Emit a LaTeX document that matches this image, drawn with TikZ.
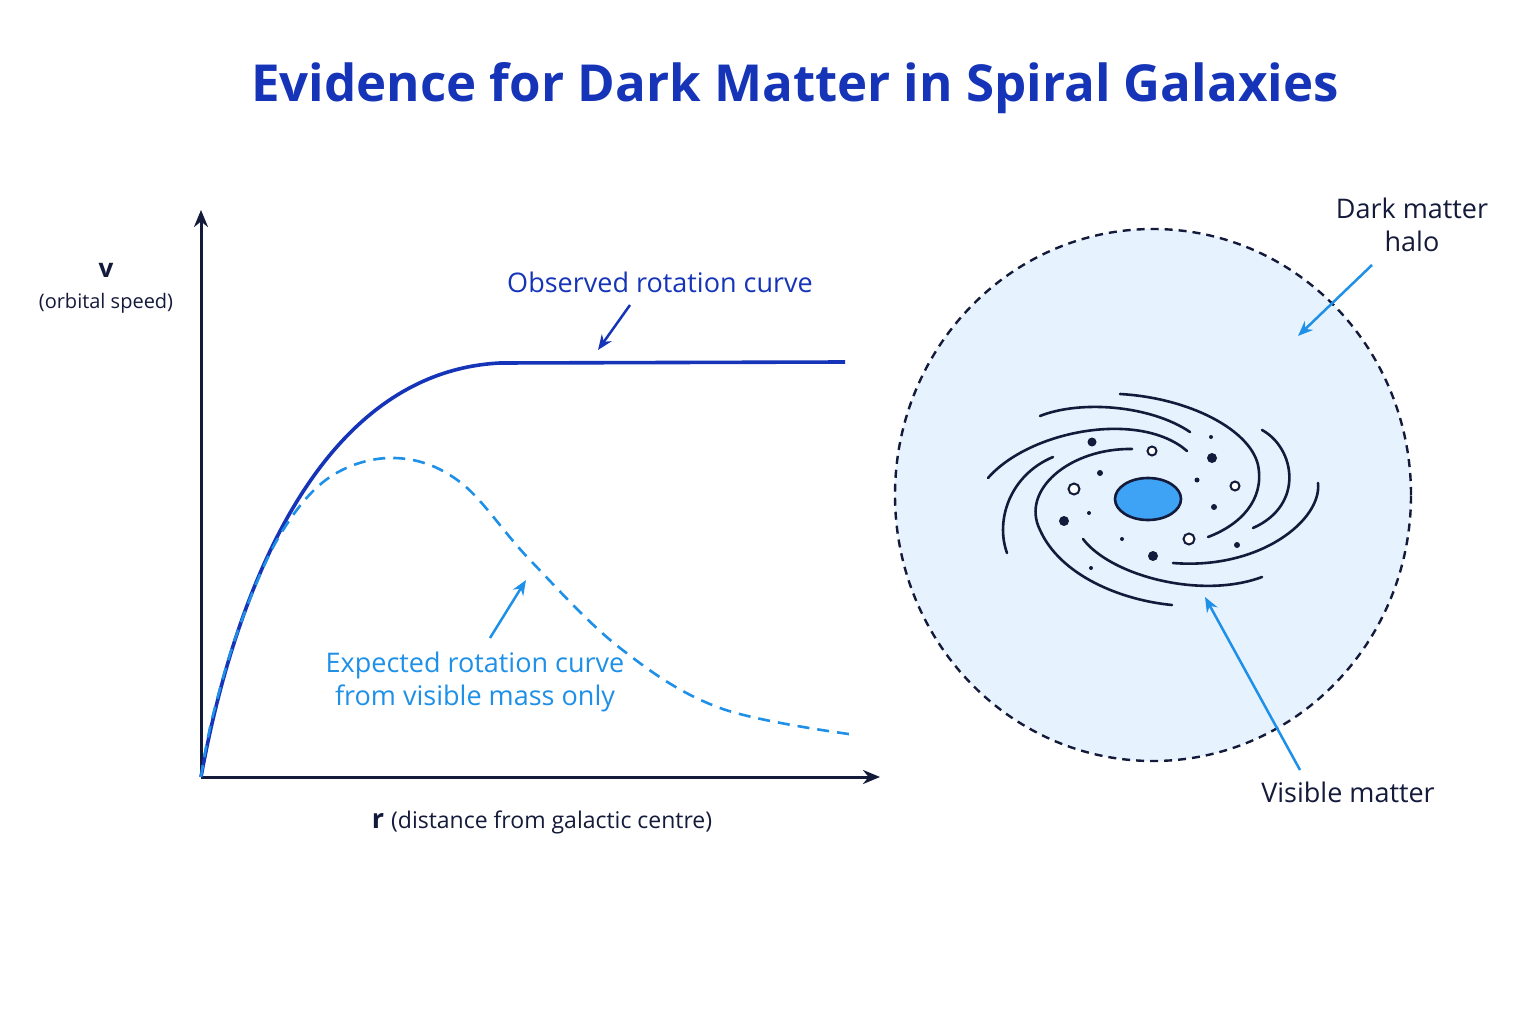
\documentclass[tikz,border=0pt]{standalone}
\usepackage{fontspec}
\setmainfont{Open Sans}
\usetikzlibrary{arrows.meta,shapes.geometric}
\definecolor{dblue}{HTML}{1534B8}
\definecolor{lblue}{HTML}{1E90E8}
\definecolor{ink}{HTML}{141A3A}
\definecolor{halo}{HTML}{E6F2FD}
\definecolor{bulge}{HTML}{3FA3F5}
\begin{document}
\begin{tikzpicture}[x=1pt,y=-1pt,
 lbl/.style={font=\fontsize{27}{33}\selectfont},
 sm/.style={font=\fontsize{20}{25}\selectfont},
 arm/.style={ink,line width=2.6pt,line cap=round},
 odot/.style={draw=ink,line width=2pt,fill=white},
 ptr/.style={line width=2.5pt,-{Stealth[length=15pt,width=12pt]}}]
\useasboundingbox[fill=white] (0,0) rectangle (1536,1024);
\node[font=\fontsize{51}{60}\selectfont\bfseries,text=dblue] (title) at (795,88) {Evidence for Dark Matter in Spiral Galaxies};
% axes
\coordinate (o) at (201,777);
\coordinate (ytop) at (201,210);
\coordinate (xend) at (880,777);
\draw[ink,line width=3pt,-{Stealth[length=17pt,width=14pt]}] (o) -- (ytop);
\draw[ink,line width=3pt,-{Stealth[length=17pt,width=14pt]}] (o) -- (xend);
\node[font=\fontsize{26}{30}\selectfont\bfseries,text=ink] (v) at (106,270) {v};
\node[sm,text=ink] (vs) at (106,303) {(orbital speed)};
\node[lbl,text=ink,anchor=base] (r) at (542,828) {\textbf{r} \fontsize{23}{27}\selectfont(distance from galactic centre)};
% curves
\draw[dblue,line width=3.6pt] (o) .. controls (235,590) and (320,372) .. (500,363) -- (845,362);
\draw[lblue,line width=2.6pt,dash pattern=on 12pt off 8pt] plot[smooth,tension=0.6] coordinates {(201,777) (213,715) (240,625) (280,535) (330,477) (395,458) (460,482) (530,560) (620,648) (720,708) (856,735)};
\node[lbl,text=dblue] (obs) at (660,282) {Observed rotation curve};
\coordinate (obsA) at (630,305); \coordinate (obsB) at (598,350);
\draw[dblue,ptr] (obsA) -- (obsB);
\node[lbl,text=lblue,align=center] (exp) at (475,682) {Expected rotation curve\\from visible mass only};
\coordinate (expA) at (490,638); \coordinate (expB) at (526,580);
\draw[lblue,ptr] (expA) -- (expB);
% halo
\node[ellipse,draw=ink,fill=halo,line width=2.4pt,dash pattern=on 8pt off 6pt,minimum width=516pt,minimum height=532pt,inner sep=0] (halo) at (1153,495) {};
\node[lbl,text=ink,align=center] (dml) at (1412,225) {Dark matter\\halo};
\coordinate (hA) at (1372,265); \coordinate (hB) at (1298,336);
\draw[lblue,ptr] (hA) -- (hB);
\node[lbl,text=ink] (vml) at (1348,792) {Visible matter};
\coordinate (vA) at (1300,770); \coordinate (vB) at (1205,597);
\draw[lblue,ptr] (vA) -- (vB);
% galaxy arms
\draw[arm] (1040,416) .. controls (1080,400) and (1150,405) .. (1190,432);
\draw[arm] (1120,394) .. controls (1190,398) and (1250,430) .. (1258,465) .. controls (1265,500) and (1240,525) .. (1208,537);
\draw[arm] (1262,430) .. controls (1295,448) and (1305,505) .. (1253,528);
\draw[arm] (1318,483) .. controls (1322,520) and (1260,570) .. (1173,563);
\draw[arm] (988,478) .. controls (1030,430) and (1140,410) .. (1187,451);
\draw[arm] (1053,457) .. controls (1010,475) and (995,520) .. (1007,553);
\draw[arm] (1132,449) .. controls (1070,448) and (1020,490) .. (1040,530) .. controls (1060,575) and (1120,600) .. (1172,605);
\draw[arm] (1083,539) .. controls (1110,575) and (1200,600) .. (1262,577);
% bulge
\node[ellipse,draw=ink,fill=bulge,line width=2.6pt,minimum width=66pt,minimum height=42pt,inner sep=0] (bulge) at (1148,499) {};
% stars
\foreach \x/\y/\r in {1092/442/4.5,1212/458/5,1211/437/2,1100/473/3,1197/480/2.5,1214/507/3,1064/521/5,1089/513/2,1122/539/2,1153/556/5,1237/545/3,1091/568/2}
  \fill[ink] (\x,\y) circle (\r);
\foreach \x/\y/\r in {1152/451/4.5,1074/489/5.5,1235/486/4.5,1189/539/5.5}
  \draw[odot] (\x,\y) circle (\r);
\end{tikzpicture}
\end{document}
